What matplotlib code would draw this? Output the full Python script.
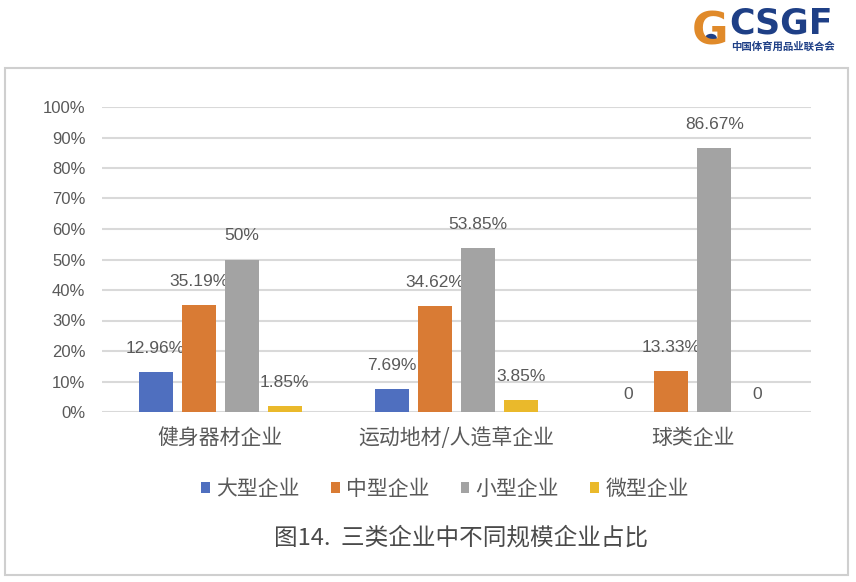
import matplotlib
matplotlib.use("Agg")
import matplotlib.pyplot as plt
from matplotlib.patches import Rectangle, Circle
import numpy as np

plt.rcParams['font.family'] = ['Liberation Sans', 'Noto Sans CJK SC', 'DejaVu Sans']

categories = ['健身器材企业', '运动地材/人造草企业', '球类企业']
series_names = ['大型企业', '中型企业', '小型企业', '微型企业']
large = [12.96, 7.69, 0]
medium = [35.19, 34.62, 13.33]
small = [50, 53.85, 86.67]
micro = [1.85, 3.85, 0]
label_large = ['12.96%', '7.69%', '0']
label_medium = ['35.19%', '34.62%', '13.33%']
label_small = ['50%', '53.85%', '86.67%']
label_micro = ['1.85%', '3.85%', '0']
yticks = [0, 10, 20, 30, 40, 50, 60, 70, 80, 90, 100]
ytick_labels = [f'{v}%' for v in yticks]
title = '图14.  三类企业中不同规模企业占比'

colors = ['#4F6FBF', '#D97B34', '#A3A3A3', '#EAB92B']
text_color = '#595959'
cjk = ['Noto Sans CJK SC', 'DejaVu Sans']

fig = plt.figure(figsize=(8.56, 5.82), dpi=100)
fig.patch.set_facecolor('white')

# outer frame
fig.add_artist(Rectangle((5/856, 1-575/582), (848-5)/856, (575-68)/582,
                         transform=fig.transFigure, fill=False,
                         edgecolor='#CFCFCF', linewidth=1.5))

ax = fig.add_axes([102/856, 1-412/582, (811-102)/856, (412-107)/582])
x = np.arange(len(categories))
width = 0.144
offsets = [-0.273, -0.091, 0.091, 0.273]
all_vals = [large, medium, small, micro]
all_labels = [label_large, label_medium, label_small, label_micro]

for vals, labs, off, c, name in zip(all_vals, all_labels, offsets, colors, series_names):
    bars = ax.bar(x + off, vals, width, color=c, label=name, zorder=3)
    for b, v, lab in zip(bars, vals, labs):
        dy = 10 if v == 0 else 16
        ax.annotate(lab, (b.get_x() + b.get_width()/2, v), xytext=(0, dy),
                    textcoords='offset pixels', ha='center', va='bottom',
                    fontsize=12.5, color=text_color, annotation_clip=False)

ax.set_ylim(0, 100)
ax.set_xlim(-0.5, 2.5)
ax.set_yticks(yticks)
ax.set_yticklabels(ytick_labels, fontsize=12, color=text_color)
ax.set_xticks(x)
ax.set_xticklabels(categories, fontsize=15, color=text_color, family=cjk)
ax.tick_params(axis='both', length=0)
ax.tick_params(axis='y', pad=12)
ax.tick_params(axis='x', pad=11)
ax.grid(axis='y', color='#D9D9D9', linewidth=1.5, zorder=0)
for s in ax.spines.values():
    s.set_visible(False)
ax.set_facecolor('none')

leg = fig.legend(loc='center', bbox_to_anchor=(445/856, 1-489/582), ncol=4,
                 frameon=False, handlelength=0.42, handleheight=0.42,
                 handletextpad=0.3, columnspacing=1.5,
                 prop={'family': cjk, 'size': 15})
for t in leg.get_texts():
    t.set_color(text_color)

fig.text(461/856, 1-538/582, title, ha='center', va='center', fontsize=17,
         color='#4A4A4A', family=cjk)

# logo
navy = '#1E3F86'
orange = '#E08A2A'
fig.text(729/856, 1-24/582, 'CSGF', ha='left', va='center', fontsize=25,
         fontweight='bold', color=navy, family=['DejaVu Sans'])
fig.text(783/856, 1-47/582, '中国体育用品业联合会', ha='center', va='center',
         fontsize=7.5, fontweight='bold', color=navy, family=cjk)
fig.text(710/856, 1-32/582, 'G', ha='center', va='center', fontsize=32,
         fontweight='bold', color=orange, family=['DejaVu Sans'])
fig.add_artist(Circle((711/856, 1-38/582), 0.006, transform=fig.transFigure,
                      color=navy))

fig.savefig('out.png', dpi=100, facecolor='white')
